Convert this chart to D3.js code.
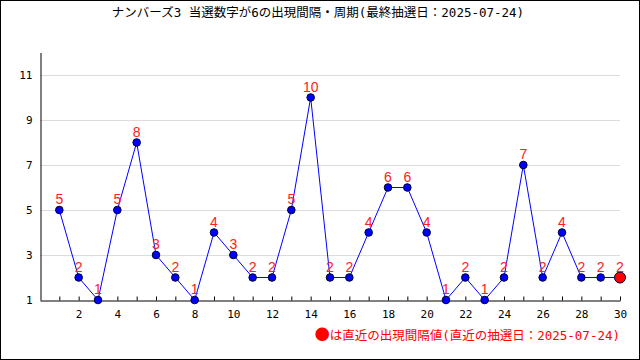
<!DOCTYPE html>
<html><head><meta charset="utf-8">
<script src="https://cdn.jsdelivr.net/npm/d3@7"></script>
<style>html,body{margin:0;padding:0;background:#fff;}svg{display:block;}</style>
</head><body>
<script>
const titleText = "ナンバーズ3 当選数字が6の出現間隔・周期(最終抽選日：2025-07-24)";
const footerText = "は直近の出現間隔値(直近の抽選日：2025-07-24)";
const draws = [1,2,3,4,5,6,7,8,9,10,11,12,13,14,15,16,17,18,19,20,21,22,23,24,25,26,27,28,29,30];
const intervals = [5,2,1,5,8,3,2,1,4,3,2,2,5,10,2,2,4,6,6,4,1,2,1,2,7,2,4,2,2,2];
const yTicks = [1,3,5,7,9,11];
const xLabelTicks = [2,4,6,8,10,12,14,16,18,20,22,24,26,28,30];

const W = 640, H = 360;
const svg = d3.select("body").append("svg").attr("width", W).attr("height", H);
svg.append("rect").attr("x",0.5).attr("y",0.5).attr("width",W-1).attr("height",H-1)
  .attr("fill","#fff").attr("stroke","#000");

const x = d3.scaleLinear().domain([0,30]).range([40,620]);
const y = d3.scaleLinear().domain([1,12]).range([300,52.5]);

// gridlines
svg.append("g").selectAll("line").data(yTicks.filter(d=>d>1)).join("line")
  .attr("x1",40).attr("x2",620).attr("y1",d=>y(d)+0.5).attr("y2",d=>y(d)+0.5)
  .attr("stroke","#dcdcdc").attr("stroke-width",1);

// y axis
const yAxis = d3.axisLeft(y).tickValues(yTicks).tickSize(0).tickPadding(8).tickFormat(d3.format("d"));
const gy = svg.append("g").attr("transform","translate(40.5,0)").call(yAxis);
gy.select(".domain").attr("stroke","#000");
gy.selectAll("text").attr("font-family","DejaVu Sans Mono").attr("font-size",11).attr("fill","#000");

// x axis: ticks pointing up at every integer
const xAxis = d3.axisBottom(x).tickValues(draws).tickSizeInner(-4).tickSizeOuter(0).tickPadding(10)
  .tickFormat(d => xLabelTicks.includes(d) ? d : "");
const gx = svg.append("g").attr("transform","translate(0,300.5)").call(xAxis);
gx.select(".domain").attr("stroke","#000");
gx.selectAll("line").attr("stroke","#000");
gx.selectAll("text").attr("font-family","DejaVu Sans Mono").attr("font-size",11).attr("fill","#000");

// line
const data = draws.map((d,i)=>({x:d, v:intervals[i]}));
svg.append("path").datum(data)
  .attr("d", d3.line().x(d=>x(d.x)).y(d=>y(d.v)))
  .attr("fill","none").attr("stroke","#0000ff").attr("stroke-width",1);

// points
svg.append("g").selectAll("circle").data(data).join("circle")
  .attr("cx",d=>x(d.x)).attr("cy",d=>y(d.v))
  .attr("r",(d,i)=> i===data.length-1 ? 5.5 : 3.8)
  .attr("fill",(d,i)=> i===data.length-1 ? "#ff0000" : "#0000ff")
  .attr("stroke","#000033").attr("stroke-width",1);

// value labels
svg.append("g").selectAll("text").data(data).join("text")
  .attr("x",d=>x(d.x)).attr("y",d=>y(d.v)-6)
  .attr("text-anchor","middle")
  .attr("font-family","Liberation Sans").attr("font-size",14)
  .attr("fill","#ff2020").text(d=>d.v);

// title
svg.append("text").attr("x",318).attr("y",17).attr("text-anchor","middle")
  .attr("font-family","'DejaVu Sans Mono','Noto Sans CJK JP'").attr("font-size",12.5).attr("fill","#000")
  .text(titleText);

// footer
const ft = svg.append("text").attr("x",620).attr("y",340).attr("text-anchor","end")
  .attr("font-family","'DejaVu Sans Mono','Noto Sans CJK JP'").attr("font-size",12.5).attr("fill","#ff0000");
ft.append("tspan").attr("font-family","Noto Sans CJK JP").attr("font-size",15).text("●");
ft.append("tspan").text(footerText);
</script>
</body></html>
